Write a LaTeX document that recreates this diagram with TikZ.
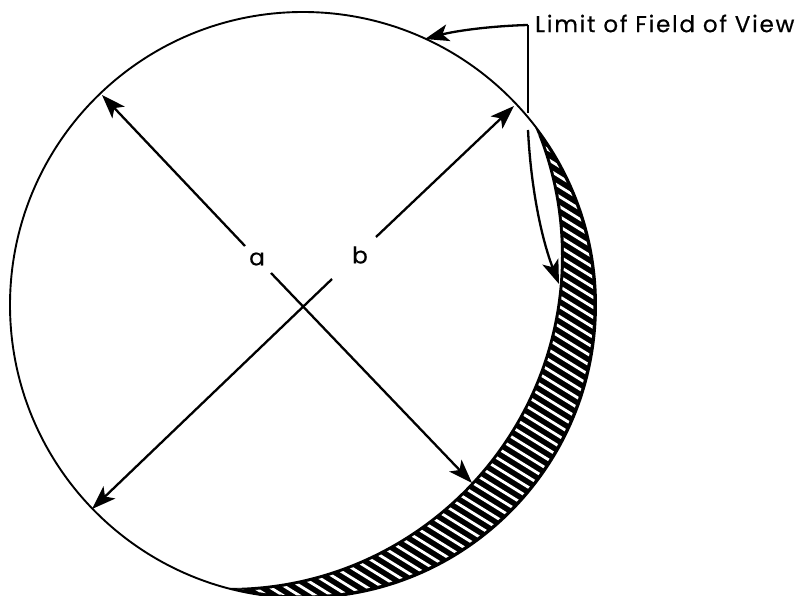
\documentclass[tikz,border=0pt]{standalone}
\usepackage{fontspec}
\setmainfont{Poppins}[LetterSpace=7.6,FakeBold=0.5]
\usetikzlibrary{arrows.meta}
\tikzset{rim/.style={draw=black,line width=1.9pt}}
\tikzset{ray/.style={draw=black,line width=2.3pt}}
\tikzset{rayhead/.style={ray,-{Stealth[length=24pt,width=17pt,inset=6pt]}}}
\tikzset{hatch/.style={draw=white,line width=2.8pt,line cap=round}}
\tikzset{lbl/.style={inner sep=0pt,font=\fontsize{23}{23}\selectfont}}

\begin{document}
\begin{tikzpicture}[x=1pt,y=-1pt]
  \useasboundingbox (0,0) rectangle (801,596);
  \coordinate (c) at (303,305);
  \coordinate (ci) at (229,256);
  % shaded crescent
  \begin{scope}
    \clip (c) circle (293);
    \fill[black,even odd rule] (c) circle (293) (ci) circle (332);
  \end{scope}
  \begin{scope}[even odd rule]
    \clip (c) circle (290.5);
    \clip (c) circle (290.5) (ci) circle (335);
    \foreach \k in {-220,-210,...,450}
      \draw[hatch] (200,\k+124) -- (620,\k+384);
  \end{scope}
  \draw[rim] (c) circle (293);
  % labels
  \node[lbl] (a) at (257,259) {a};
  \node[lbl] (b) at (360,255) {b};
  \node[lbl,anchor=west] (lim) at (535,23.5) {Limit of Field of View};
  % diameters
  \coordinate (p) at (102,95);
  \coordinate (q) at (472,483);
  \coordinate (r) at (514,106);
  \coordinate (s) at (92,509);
  \coordinate (a1) at (245,246);
  \coordinate (a2) at (271,273);
  \coordinate (b1) at (376,237);
  \coordinate (b2) at (332,279);
  \draw[rayhead] (a1) -- (p);
  \draw[rayhead] (a2) -- (q);
  \draw[rayhead] (b1) -- (r);
  \draw[rayhead] (b2) -- (s);
  % field of view bracket
  \coordinate (knee) at (528,25);
  \coordinate (foot) at (528,113);
  \coordinate (edge) at (425,39);
  \coordinate (low) at (528,130);
  \coordinate (tip) at (559,284);
  \draw[ray,line width=2.6pt] (foot) -- (knee);
  \draw[rayhead] (knee) .. controls (490,26) and (455,31) .. (edge);
  \draw[rayhead] (low) .. controls (531,190) and (542,240) .. (tip);
\end{tikzpicture}
\end{document}
